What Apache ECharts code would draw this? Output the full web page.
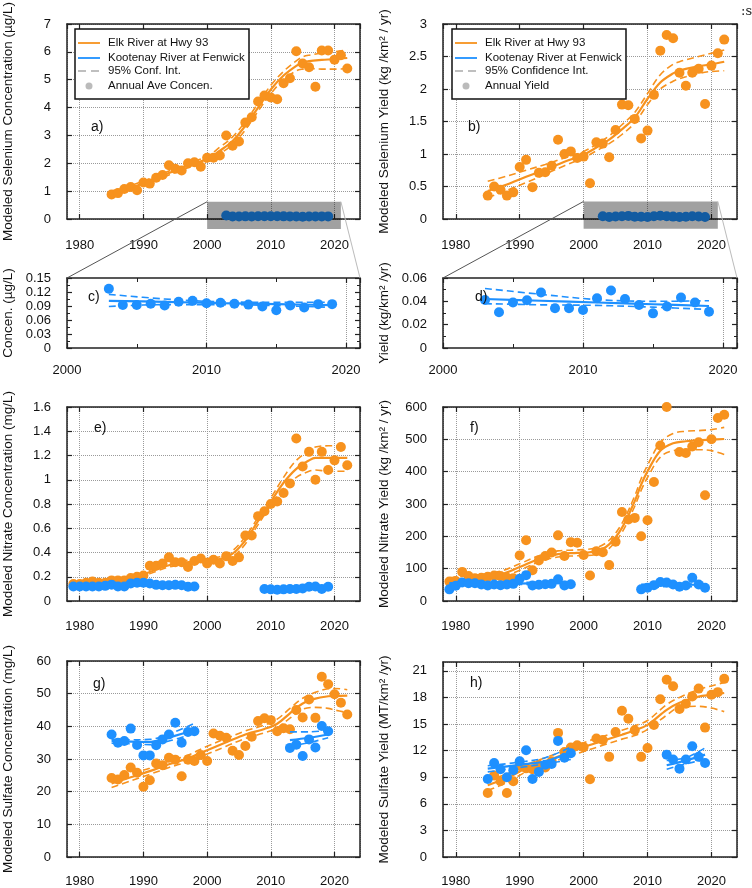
<!DOCTYPE html>
<html><head><meta charset="utf-8">
<script src="https://cdn.jsdelivr.net/npm/echarts@6/dist/echarts.min.js"></script>
<style>html,body{margin:0;padding:0;background:#fff}#c{width:752px;height:888px}</style>
</head><body><div id="c"></div>
<script>
// ---------------- DATA ----------------
function range(a, b) { const r = []; for (let y = a; y <= b; y++) r.push(y); return r; }

const yrsElk = range(1985, 2022);          // Elk Se & sulfate
const yrsElkN = range(1979, 2022);         // Elk nitrate
const yrsKootSe = range(2003, 2019);       // Kootenay Se
const yrsKootN1 = range(1979, 1998);
const yrsKootN2 = range(2009, 2019);
const yrsKootS1 = range(1985, 1998);
const yrsKootS2 = range(2013, 2019);

// a) Selenium concentration
const seConcElk = [0.88,0.93,1.08,1.15,1.03,1.31,1.27,1.48,1.58,1.93,1.8,1.74,2.0,2.04,1.88,2.2,2.2,2.28,3.0,2.63,2.78,3.46,3.65,4.22,4.43,4.36,4.3,4.87,5.05,6.02,5.58,5.45,4.75,6.05,6.05,5.72,5.88,5.4];
const seFitYrs = [1985,1988,1991,1994,1997,2000,2002,2004,2006,2008,2010,2012,2014,2015,2016,2018,2020,2022];
const seConcElkFit = [0.92,1.12,1.38,1.65,1.92,2.15,2.45,2.8,3.35,4.0,4.65,5.15,5.5,5.62,5.67,5.71,5.74,5.78];
const seConcElkUp  = [1.0,1.2,1.45,1.72,2.0,2.25,2.58,2.95,3.5,4.15,4.8,5.3,5.68,5.82,5.88,5.95,6.0,6.07];
const seConcElkLo  = [0.84,1.04,1.3,1.58,1.84,2.07,2.34,2.68,3.2,3.87,4.5,5.0,5.32,5.38,5.4,5.38,5.38,5.4];

// b) Selenium yield
const seYieldElk = [0.36,0.5,0.45,0.36,0.41,0.8,0.91,0.49,0.71,0.72,0.82,1.22,1.0,1.04,0.94,0.96,0.55,1.18,1.16,0.95,1.37,1.76,1.75,1.54,1.24,1.36,1.91,2.59,2.83,2.78,2.25,2.05,2.25,2.31,1.77,2.36,2.55,2.76];
const seYieldElkFit = [0.43,0.53,0.65,0.76,0.88,0.99,1.1,1.22,1.38,1.56,1.85,2.1,2.24,2.28,2.31,2.35,2.38,2.42];
const seYieldElkUp  = [0.58,0.66,0.75,0.84,0.94,1.04,1.15,1.28,1.45,1.64,1.93,2.22,2.38,2.42,2.45,2.5,2.55,2.6];
const seYieldElkLo  = [0.33,0.44,0.56,0.69,0.82,0.94,1.05,1.16,1.3,1.48,1.76,2.0,2.12,2.16,2.19,2.24,2.27,2.28];

// c) Kootenay Se concentration
const seConcKoot = [0.127,0.092,0.092,0.095,0.091,0.099,0.101,0.096,0.097,0.095,0.093,0.089,0.081,0.091,0.087,0.094,0.094];
const kootSeFitYrs = [2003,2007,2011,2015,2019];
const seConcKootFit = [0.101,0.099,0.096,0.094,0.092];
const seConcKootUp  = [0.115,0.105,0.099,0.098,0.098];
const seConcKootLo  = [0.089,0.093,0.093,0.091,0.087];

// d) Kootenay Se yield
const seYieldKoot = [0.0412,0.0306,0.039,0.041,0.0476,0.034,0.034,0.0326,0.0427,0.0493,0.042,0.0369,0.0297,0.0355,0.0433,0.039,0.0311];
const seYieldKootFit = [0.042,0.0405,0.039,0.0375,0.036];
const seYieldKootUp  = [0.051,0.046,0.0415,0.040,0.0405];
const seYieldKootLo  = [0.038,0.037,0.0365,0.035,0.033];

// e) Nitrate concentration
const nConcElk = [0.14,0.14,0.15,0.16,0.15,0.15,0.17,0.17,0.17,0.19,0.2,0.21,0.29,0.29,0.31,0.36,0.32,0.32,0.28,0.33,0.35,0.31,0.34,0.31,0.37,0.33,0.36,0.54,0.54,0.70,0.74,0.80,0.82,0.89,0.97,1.34,1.11,1.23,1.0,1.23,1.08,1.16,1.27,1.12];
const nConcFitYrs = [1979,1982,1985,1988,1990,1992,1994,1996,1999,2002,2004,2006,2008,2010,2012,2014,2016,2017,2019,2022];
const nConcElkFit = [0.14,0.15,0.165,0.19,0.22,0.26,0.295,0.315,0.33,0.345,0.39,0.5,0.66,0.82,0.975,1.09,1.16,1.18,1.18,1.18];
const nConcElkUp  = [0.15,0.16,0.175,0.2,0.235,0.275,0.31,0.33,0.345,0.365,0.415,0.53,0.69,0.85,1.02,1.16,1.24,1.27,1.28,1.28];
const nConcElkLo  = [0.13,0.14,0.155,0.18,0.205,0.245,0.28,0.3,0.315,0.325,0.365,0.47,0.63,0.79,0.93,1.02,1.07,1.08,1.07,1.07];
const nConcKoot1 = [0.12,0.12,0.12,0.12,0.12,0.125,0.135,0.12,0.12,0.145,0.15,0.15,0.145,0.133,0.13,0.13,0.133,0.13,0.118,0.12];
const nConcKoot2 = [0.099,0.096,0.093,0.096,0.099,0.099,0.104,0.118,0.12,0.099,0.118];

// f) Nitrate yield
const nYieldElk = [60,62,90,77,70,72,75,79,77,72,70,141,188,95,125,139,150,203,139,182,180,142,79,154,151,111,183,275,252,257,200,250,368,481,600,650,461,458,478,491,327,500,566,576];
const nYieldFitYrs = [1979,1983,1987,1990,1993,1996,1999,2002,2004,2006,2008,2009,2010,2012,2014,2016,2018,2020,2022];
const nYieldElkFit = [62,70,82,105,130,145,149,154,175,226,309,360,401,465,488,494,497,499,501];
const nYieldElkUp  = [72,80,92,115,140,155,158,165,188,240,325,378,420,490,518,525,527,530,537];
const nYieldElkLo  = [52,61,72,95,121,136,140,144,163,212,293,342,382,445,465,468,468,465,453];
const nYieldKoot1 = [36,47,57,55,55,51,48,51,49,51,53,69,80,48,50,52,53,67,48,52];
const nYieldKoot2 = [36,41,49,59,57,51,44,48,72,51,41];
const kootN1FitYrs = [1979,1988,1998];
const nYieldKoot1Fit = [52,54,55];
const nYieldKoot1Up  = [56,57,60];
const nYieldKoot1Lo  = [48,51,50];
const kootN2FitYrs = [2009,2014,2019];
const nYieldKoot2Fit = [45,49,51];
const nYieldKoot2Up  = [52,53,58];
const nYieldKoot2Lo  = [38,45,44];

// g) Sulfate concentration
const sConcElk = [24.2,23.7,25.1,27.4,25.8,21.5,23.5,28.6,28.1,30.4,29.8,24.7,29.8,29.4,31.2,29.4,37.8,37.1,36.5,32.5,31.2,34.0,36.8,41.6,42.5,41.9,38.5,39.4,39.1,45.0,42.7,48.2,42.6,55.2,52.9,49.8,47.2,43.6];
const sConcFitYrs = [1985,1988,1991,1994,1997,2000,2003,2006,2009,2011,2013,2015,2017,2019,2020,2022];
const sConcElkFit = [22.5,24.4,26.3,28.4,30.2,32.7,35.1,37.5,39.2,40.8,44.0,47.0,48.5,49.2,49.3,49.4];
const sConcElkUp  = [23.6,25.4,27.2,29.3,31.2,33.9,36.3,38.6,40.4,42.2,45.5,48.6,50.4,51.5,51.6,51.2];
const sConcElkLo  = [21.3,23.3,25.3,27.4,29.2,31.5,33.9,36.3,38.0,39.5,42.5,45.2,45.8,45.5,45.0,44.2];
const sConcKoot1 = [37.5,35.0,35.5,39.3,34.3,31.1,31.1,34.2,36.0,37.5,41.1,35.0,38.3,38.5];
const sConcKoot2 = [33.4,34.4,30.9,36.0,33.5,40.1,38.5];
const kootS1FitYrs = [1985,1988,1991,1994,1998];
const sConcKoot1Fit = [35.5,35.3,35.2,36.6,38.9];
const sConcKoot1Up  = [36.0,35.9,36.0,37.6,40.9];
const sConcKoot1Lo  = [34.8,34.7,34.4,35.5,37.9];
const kootS2FitYrs = [2013,2016,2019];
const sConcKoot2Fit = [35.8,36.5,37.5];
const sConcKoot2Up  = [38.3,38.3,38.8];
const sConcKoot2Lo  = [34.0,35.0,36.5];

// h) Sulfate yield
const sYieldElk = [7.23,9.2,8.54,7.23,8.54,10.3,10.0,9.9,10.4,10.1,10.8,14.0,11.85,12.34,12.6,12.4,8.77,13.36,13.2,11.3,14.1,16.5,15.6,14.3,11.3,12.3,14.9,17.8,20.0,19.27,16.7,17.3,18.1,19.0,14.6,18.3,18.6,20.1];
const sYieldFitYrs = [1985,1988,1991,1994,1997,2000,2003,2006,2008,2010,2013,2015,2018,2020,2022];
const sYieldElkFit = [8.1,8.9,10.0,10.8,11.6,12.4,13.1,13.8,14.3,14.9,16.6,17.4,18.1,18.3,18.5];
const sYieldElkUp  = [8.65,9.4,10.4,11.2,12.0,12.9,13.6,14.3,14.8,15.4,17.2,18.0,18.9,19.3,19.7];
const sYieldElkLo  = [7.5,8.4,9.6,10.4,11.2,11.9,12.6,13.3,13.7,14.4,16.0,16.9,17.0,16.8,16.4];
const sYieldKoot1 = [8.8,10.6,9.9,9.0,9.8,10.8,12.05,8.8,9.6,10.4,10.5,13.1,11.2,11.7];
const sYieldKoot2 = [11.55,11.0,9.97,11.0,12.5,11.3,10.6];
const kootH1FitYrs = [1985,1990,1994,1998];
const sYieldKoot1Fit = [9.97,10.4,10.8,11.85];
const sYieldKoot1Up  = [10.3,10.7,11.2,12.4];
const sYieldKoot1Lo  = [9.6,10.1,10.5,11.0];
const sYieldKoot2Fit = [10.35,10.9,11.55];
const sYieldKoot2Up  = [10.9,11.2,12.3];
const sYieldKoot2Lo  = [9.9,10.5,11.0];

// axis tick labels / texts
const yNames = [
  'Modeled Selenium Concentration (\u00b5g/L)',
  'Modeled Selenium Yield (kg /km\u00b2 / yr)',
  'Concen. (\u00b5g/L)',
  'Yield (kg/km\u00b2 /yr)',
  'Modeled Nitrate Concentration (mg/L)',
  'Modeled Nitrate Yield (kg /km\u00b2 / yr)',
  'Modeled Sulfate Concentration (mg/L)',
  'Modeled Sulfate Yield (MT/km\u00b2 /yr)'
];
const panelLabels = ['a)','b)','c)','d)','e)','f)','g)','h)'];
const legendA = ['Elk River at Hwy 93','Kootenay River at Fenwick','95% Conf. Int.','Annual Ave Concen.'];
const legendB = ['Elk River at Hwy 93','Kootenay River at Fenwick','95% Confidence Int.','Annual Yield'];
const zoomYears = [2000, 2021];
const zoomBandA = [-0.36, 0.62];
const zoomBandB = [-0.15, 0.27];

// ---------------- LAYOUT / STYLE ----------------
const FONT = '"Liberation Sans", Arial, sans-serif';
const ORANGE = '#F7921E', BLUE = '#1E90FF';
const grids = [
  {left:67, top:24, width:293, height:195},
  {left:443, top:24, width:294, height:195},
  {left:67, top:278, width:293, height:70},
  {left:443, top:278, width:294, height:70},
  {left:67, top:407, width:293, height:194},
  {left:443, top:407, width:294, height:194},
  {left:67, top:661, width:293, height:196},
  {left:443, top:662, width:294, height:195}
];
const xCfg = [
  {min:1978,max:2024,margin:20,showMin:false},
  {min:1978,max:2024,margin:20,showMin:false},
  {min:2000,max:2021,interval:10,margin:16,showMin:true,minor:true},
  {min:2000,max:2021,interval:10,margin:16,showMin:true,minor:true},
  {min:1978,max:2024,margin:19,showMin:false},
  {min:1978,max:2024,margin:19,showMin:false},
  {min:1978,max:2024,margin:18,showMin:false},
  {min:1978,max:2024,margin:18,showMin:false}
];
const yCfg = [
  {min:0,max:7,interval:1,grid:true},
  {min:0,max:3,interval:0.5,grid:true},
  {min:0,max:0.15,interval:0.03,grid:false,minor:true},
  {min:0,max:0.06,interval:0.02,grid:false,minor:true},
  {min:0,max:1.6,interval:0.2,grid:true},
  {min:0,max:600,interval:100,grid:true},
  {min:0,max:60,interval:10,grid:true},
  {min:0,max:22,interval:3,grid:true,hideMax:true}
];

const axisLineStyle = {color:'#222', width:1.5};
const xAxes = [], yAxes = [];
grids.forEach((g, k) => {
  const xc = xCfg[k], yc = yCfg[k];
  const xb = {type:'value', gridIndex:k, min:xc.min, max:xc.max,
    axisLine:{show:true, onZero:false, lineStyle:axisLineStyle},
    axisTick:{show:true, inside:true, length:5, lineStyle:{color:'#222', width:1.2}},
    minorTick:{show:!!xc.minor, splitNumber:2, length:4, lineStyle:{color:'#222'}}};
  if (xc.interval) xb.interval = xc.interval;
  xAxes.push(Object.assign({}, xb, {position:'bottom',
    axisLabel:{show:true, fontSize:13, color:'#111', fontFamily:FONT, margin:xc.margin, showMinLabel:xc.showMin, showMaxLabel:false,
      formatter: v => String(Math.round(v))},
    splitLine:{show:true, lineStyle:{color:'#9a9a9a', type:'dotted', width:1}}}));
  xAxes.push(Object.assign({}, xb, {position:'top', axisLabel:{show:false}, splitLine:{show:false}}));
  const yb = {type:'value', gridIndex:k, min:yc.min, max:yc.max, interval:yc.interval,
    axisLine:{show:true, onZero:false, lineStyle:axisLineStyle},
    axisTick:{show:true, inside:true, length:5, lineStyle:{color:'#222', width:1.2}},
    minorTick:{show:!!yc.minor, splitNumber:2, length:3, lineStyle:{color:'#222'}}};
  yAxes.push(Object.assign({}, yb, {position:'left',
    name:yNames[k], nameLocation:'middle', nameGap:52, nameRotate:90,
    nameTextStyle:{fontSize:13.5, color:'#111', fontFamily:FONT},
    axisLabel:{show:true, fontSize:13, color:'#111', fontFamily:FONT, margin:16, showMaxLabel:!yc.hideMax},
    splitLine:{show:yc.grid, lineStyle:{color:'#9a9a9a', type:'dotted', width:1}}}));
  yAxes.push(Object.assign({}, yb, {position:'right', axisLabel:{show:false}, splitLine:{show:false}}));
});

function pairs(xs, ys) { return xs.map((x, i) => [x, ys[i]]); }
const series = [];
function dots(k, xs, ys, color, z) {
  series.push({type:'scatter', xAxisIndex:2*k, yAxisIndex:2*k, data:pairs(xs, ys),
    symbol:'circle', symbolSize:10, itemStyle:{color:color, opacity:1}, z:z, silent:true, animation:false});
}
function fit(k, xs, mid, up, lo, color, z) {
  const mk = (vals, dashed) => ({type:'line', xAxisIndex:2*k, yAxisIndex:2*k, data:pairs(xs, vals),
    smooth:0.35, symbol:'none', showSymbol:false, silent:true, animation:false, z:z,
    lineStyle:{color:color, width:dashed ? 1.6 : 2.2, type:dashed ? [7,4] : 'solid'}});
  series.push(mk(mid, false), mk(up, true), mk(lo, true));
}

// a
fit(0, seFitYrs, seConcElkFit, seConcElkUp, seConcElkLo, ORANGE, 2);
dots(0, yrsElk, seConcElk, ORANGE, 3);
dots(0, yrsKootSe, seConcKoot, BLUE, 5);
// b
fit(1, seFitYrs, seYieldElkFit, seYieldElkUp, seYieldElkLo, ORANGE, 2);
dots(1, yrsElk, seYieldElk, ORANGE, 3);
dots(1, yrsKootSe, seYieldKoot, BLUE, 5);
// c
fit(2, kootSeFitYrs, seConcKootFit, seConcKootUp, seConcKootLo, BLUE, 4);
dots(2, yrsKootSe, seConcKoot, BLUE, 5);
// d
fit(3, kootSeFitYrs, seYieldKootFit, seYieldKootUp, seYieldKootLo, BLUE, 4);
dots(3, yrsKootSe, seYieldKoot, BLUE, 5);
// e
fit(4, nConcFitYrs, nConcElkFit, nConcElkUp, nConcElkLo, ORANGE, 2);
dots(4, yrsElkN, nConcElk, ORANGE, 3);
dots(4, yrsKootN1, nConcKoot1, BLUE, 5);
dots(4, yrsKootN2, nConcKoot2, BLUE, 5);
// f
fit(5, nYieldFitYrs, nYieldElkFit, nYieldElkUp, nYieldElkLo, ORANGE, 2);
dots(5, yrsElkN, nYieldElk, ORANGE, 3);
fit(5, kootN1FitYrs, nYieldKoot1Fit, nYieldKoot1Up, nYieldKoot1Lo, BLUE, 4);
fit(5, kootN2FitYrs, nYieldKoot2Fit, nYieldKoot2Up, nYieldKoot2Lo, BLUE, 4);
dots(5, yrsKootN1, nYieldKoot1, BLUE, 5);
dots(5, yrsKootN2, nYieldKoot2, BLUE, 5);
// g
fit(6, sConcFitYrs, sConcElkFit, sConcElkUp, sConcElkLo, ORANGE, 2);
dots(6, yrsElk, sConcElk, ORANGE, 3);
fit(6, kootS1FitYrs, sConcKoot1Fit, sConcKoot1Up, sConcKoot1Lo, BLUE, 4);
fit(6, kootS2FitYrs, sConcKoot2Fit, sConcKoot2Up, sConcKoot2Lo, BLUE, 4);
dots(6, yrsKootS1, sConcKoot1, BLUE, 5);
dots(6, yrsKootS2, sConcKoot2, BLUE, 5);
// h
fit(7, sYieldFitYrs, sYieldElkFit, sYieldElkUp, sYieldElkLo, ORANGE, 2);
dots(7, yrsElk, sYieldElk, ORANGE, 3);
fit(7, kootH1FitYrs, sYieldKoot1Fit, sYieldKoot1Up, sYieldKoot1Lo, BLUE, 4);
fit(7, kootS2FitYrs, sYieldKoot2Fit, sYieldKoot2Up, sYieldKoot2Lo, BLUE, 4);
dots(7, yrsKootS1, sYieldKoot1, BLUE, 5);
dots(7, yrsKootS2, sYieldKoot2, BLUE, 5);

const chart = echarts.init(document.getElementById('c'), null, {renderer:'canvas', width:752, height:888});
chart.setOption({
  backgroundColor:'#fff', animation:false,
  grid: grids.map(g => Object.assign({containLabel:false, show:false}, g)),
  xAxis: xAxes, yAxis: yAxes, series: series
});

// ---------------- ANNOTATIONS ----------------
const px = (k, pt) => chart.convertToPixel({xAxisIndex:2*k, yAxisIndex:2*k}, pt);
const G = [];
function zoomBox(kSrc, kDst, band, topVal) {
  const p1 = px(kSrc, [zoomYears[0], band[1]]);
  const p2 = px(kSrc, [zoomYears[1], band[0]]);
  G.push({type:'rect', z:100, silent:true, shape:{x:p1[0], y:p1[1], width:p2[0]-p1[0], height:p2[1]-p1[1]},
    style:{fill:'rgba(0,0,0,0.37)'}});
  const c1 = px(kDst, [zoomYears[0], topVal]);
  const c2 = px(kDst, [zoomYears[1], topVal]);
  G.push({type:'line', z:100, silent:true, shape:{x1:p1[0], y1:p1[1], x2:c1[0], y2:c1[1]}, style:{stroke:'#555', lineWidth:1}});
  G.push({type:'line', z:100, silent:true, shape:{x1:p2[0], y1:p1[1], x2:c2[0], y2:c2[1]}, style:{stroke:'#bbb', lineWidth:1}});
}
zoomBox(0, 2, zoomBandA, 0.15);
zoomBox(1, 3, zoomBandB, 0.06);

function legend(x0, labels) {
  const y0 = 29;
  G.push({type:'rect', z:110, silent:true, shape:{x:x0, y:y0, width:174, height:70}, style:{fill:'#fff', stroke:'#111', lineWidth:1.5}});
  const rows = [14, 29, 42, 57];
  const lx1 = x0 + 3, lx2 = x0 + 25;
  G.push({type:'line', z:111, silent:true, shape:{x1:lx1, y1:y0+rows[0], x2:lx2, y2:y0+rows[0]}, style:{stroke:ORANGE, lineWidth:1.8}});
  G.push({type:'line', z:111, silent:true, shape:{x1:lx1, y1:y0+rows[1], x2:lx2, y2:y0+rows[1]}, style:{stroke:BLUE, lineWidth:1.8}});
  G.push({type:'line', z:111, silent:true, shape:{x1:lx1, y1:y0+rows[2], x2:lx2, y2:y0+rows[2]}, style:{stroke:'#aaa', lineWidth:1.5, lineDash:[8,5]}});
  G.push({type:'circle', z:111, silent:true, shape:{cx:(lx1+lx2)/2, cy:y0+rows[3], r:3.5}, style:{fill:'#bbb'}});
  labels.forEach((t, i) => G.push({type:'text', z:111, silent:true, x:x0+33, y:y0+rows[i],
    style:{text:t, fontSize:11.5, fontFamily:FONT, fill:'#111', verticalAlign:'middle', align:'left'}}));
}
legend(75, legendA);
legend(452, legendB);

const labelPos = [[91,127],[468,127],[88,297],[475,297],[94,428],[470,428],[93,684],[470,683]];
panelLabels.forEach((t, i) => G.push({type:'text', z:105, silent:true, x:labelPos[i][0], y:labelPos[i][1],
  style:{text:t, fontSize:14, fontFamily:FONT, fill:'#111', verticalAlign:'middle', align:'left'}}));

G.push({type:'text', z:105, silent:true, x:741, y:12, style:{text:':s', fontSize:13, fontFamily:'"DejaVu Serif", serif', fill:'#222', verticalAlign:'middle'}});

chart.setOption({graphic: G});
</script></body></html>
